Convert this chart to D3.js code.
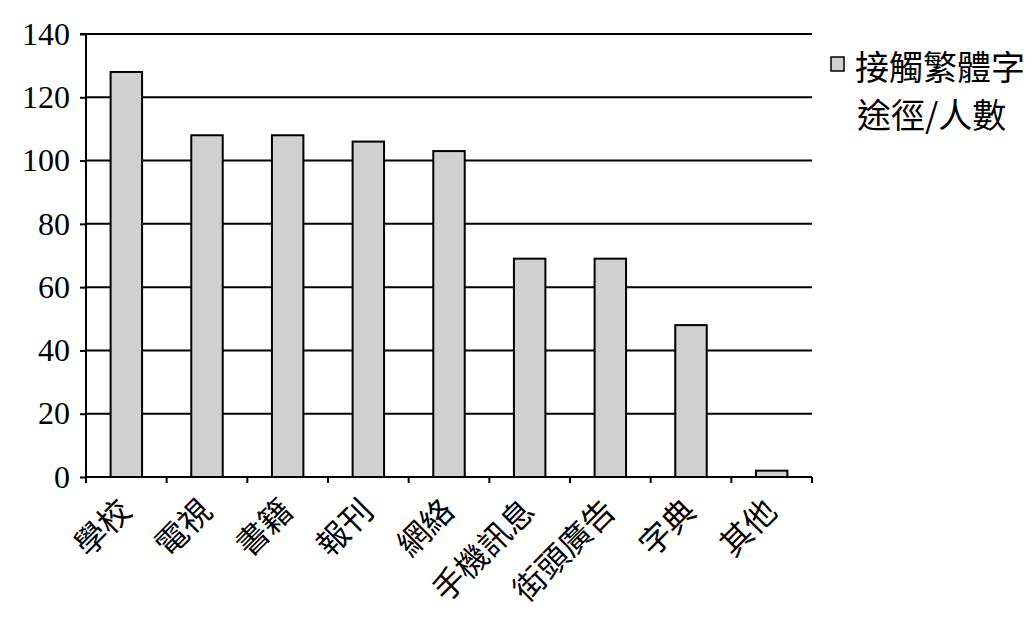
<!DOCTYPE html>
<html><head><meta charset="utf-8">
<script src="https://cdn.jsdelivr.net/npm/d3@7"></script>
<style>body{margin:0;background:#fff}</style>
</head><body>
<svg id="c" width="1034" height="620"></svg>
<script>
const categories = ["學校","電視","書籍","報刊","網絡","手機訊息","街頭廣告","字典","其他"];
const values = [128,108,108,106,103,69,69,48,2];
const yTicks = [0,20,40,60,80,100,120,140];
const legendLines = ["接觸繁體字","途徑/人數"];

const svg = d3.select("#c");
const L=86,R=812,T=34,B=477;
const x = d3.scaleBand().domain(categories).range([L,R]).paddingInner(0.61).paddingOuter(0.305);
const xb = d3.scaleBand().domain(categories).range([L,R]);
const y = d3.scaleLinear().domain([0,140]).range([B,T]);
const cjk = "'Noto Sans CJK TC','Noto Sans CJK SC',sans-serif";
const num = "'Liberation Serif','Times New Roman',serif";

// gridlines
svg.append("g").selectAll("line").data(yTicks.filter(d=>d>0)).join("line")
  .attr("x1",L).attr("x2",R).attr("y1",d=>y(d)).attr("y2",d=>y(d))
  .attr("stroke","#000").attr("stroke-width",2);

// bars
svg.append("g").selectAll("rect").data(values).join("rect")
  .attr("x",(d,i)=>x(categories[i])).attr("width",x.bandwidth())
  .attr("y",d=>y(d)).attr("height",d=>B-y(d))
  .attr("fill","#d0d0d0").attr("stroke","#000").attr("stroke-width",2);

// y axis
const ya = svg.append("g").attr("transform",`translate(${L},0)`)
  .call(d3.axisLeft(y).tickValues(yTicks).tickSize(6).tickPadding(10));
ya.attr("font-family",null).attr("font-size",null);
ya.select(".domain").attr("stroke-width",2).attr("d",`M-6,${y(140)}H0V${B}`);
ya.selectAll(".tick line").attr("stroke-width",2);
ya.selectAll("text").style("font-family",num).style("font-size","32px").attr("fill","#000");

// x axis
const tickPos = categories.map(c=>xb(c)).concat([R]);
svg.append("line").attr("x1",L).attr("x2",R).attr("y1",B).attr("y2",B).attr("stroke","#000").attr("stroke-width",2);
svg.append("g").selectAll("line").data(tickPos).join("line")
  .attr("x1",d=>d).attr("x2",d=>d).attr("y1",B).attr("y2",B+6)
  .attr("stroke","#000").attr("stroke-width",2);
svg.append("g").selectAll("text").data(categories).join("text")
  .attr("transform",d=>`translate(${xb(d)+xb.bandwidth()/2+7},${B+36}) rotate(-45)`)
  .attr("text-anchor","end")
  .style("font-family",cjk).style("font-size","32px").attr("fill","#000").text(d=>d);

// legend
svg.append("rect").attr("x",831).attr("y",57).attr("width",13).attr("height",14)
  .attr("fill","#d0d0d0").attr("stroke","#000").attr("stroke-width",1.5);
svg.append("g").selectAll("text").data(legendLines).join("text")
  .attr("x",(d,i)=>i?857:855).attr("y",(d,i)=>80+i*48)
  .style("font-family",cjk).style("font-size","34px").attr("fill","#000").text(d=>d);
</script>
</body></html>
